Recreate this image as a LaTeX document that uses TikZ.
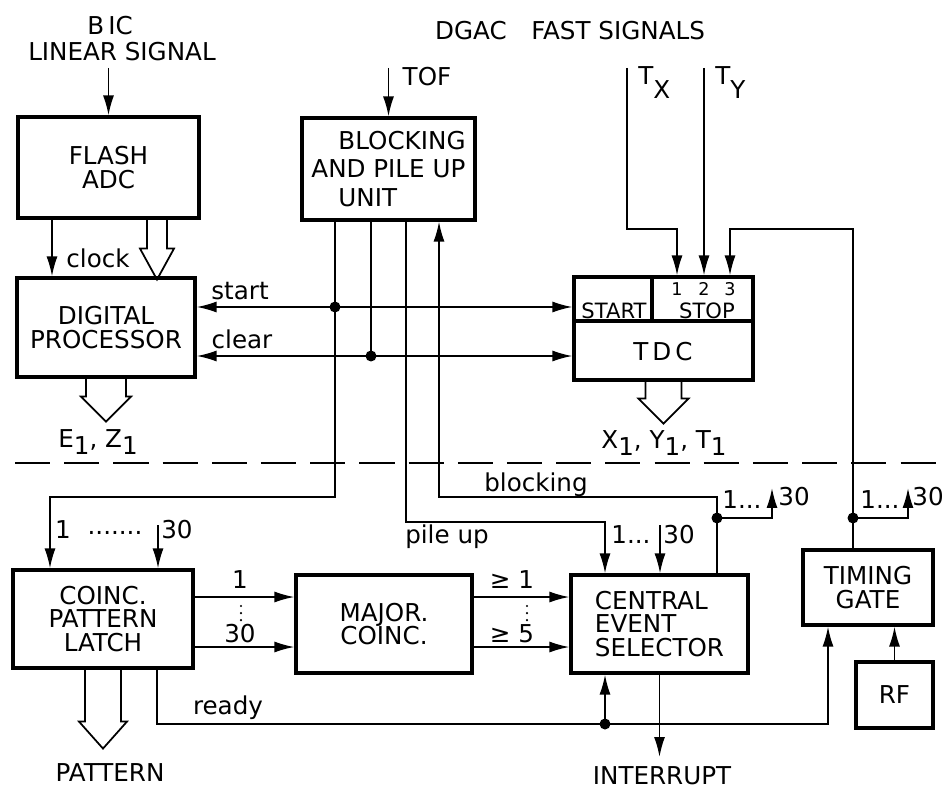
\documentclass[tikz,border=0pt]{standalone}
\usepackage{fontspec}
\setmainfont{DejaVu Sans}
\usepackage{tikz}
\usetikzlibrary{arrows.meta}
\newcommand{\lowidx}[2][4pt]{\raisebox{-#1}{#2}}
\newcommand{\fatarrow}[5]{%
  \draw[bus,shift={(#1)}] (-#2,0) -- (-#2,#3) -- (-#4,#3) -- (0,#5) -- (#4,#3) -- (#2,#3) -- (#2,0);}

\begin{document}
\begin{tikzpicture}[x=0.02cm,y=-0.02cm,font=\fontsize{14}{13.5}\selectfont,
  box/.style={draw,line width=1.8pt,inner sep=0pt,align=center},
  wire/.style={line width=1pt},
  sig/.style={wire,-{Latex[length=4mm,width=2.2mm]}},
  sigboth/.style={wire,{Latex[length=4mm,width=2.2mm]}-{Latex[length=4mm,width=2.2mm]}},
  bus/.style={wire,line join=miter},
  dot/.style={circle,fill,inner sep=0pt,minimum size=2.2mm},
  lbl/.style={inner sep=0pt},
  smalltext/.style={font=\fontsize{12}{12}\selectfont},
  digit/.style={font=\fontsize{10}{10}\selectfont},
  dotrow/.style={line width=1.4pt,line cap=round,dash pattern=on 0pt off 4pt},
  divider/.style={line width=1.1pt,dash pattern=on 20pt off 8pt}]
  \useasboundingbox (0,0) rectangle (946,790);

  % upper half: converters
  \node[box,minimum width=3.62cm,minimum height=2.02cm] (flash) at (108.5,167.5) {FLASH\\ADC};
  \node[box,minimum width=3.46cm,minimum height=2.04cm,align=left] (block) at (388.5,169)
    {\hspace*{1.1em}BLOCKING\\[2.5pt]AND PILE UP\\[2.5pt]\hspace*{1.1em}UNIT};
  \node[box,minimum width=3.56cm,minimum height=1.98cm] (dp) at (106,327.5) {DIGITAL\\PROCESSOR};
  \node[box,minimum width=3.58cm,minimum height=2.06cm] (tdc) at (663.5,328.5) {};

  % lower half: event selection
  \node[box,minimum width=3.6cm,minimum height=1.96cm] (latch) at (103,619) {COINC.\\PATTERN\\LATCH};
  \node[box,minimum width=3.52cm,minimum height=1.96cm] (major) at (384,624) {MAJOR.\\COINC.};
  \node[box,minimum width=3.54cm,minimum height=1.96cm,align=left] (ces) at (659.5,624) {CENTRAL\\EVENT\\SELECTOR};
  \node[box,minimum width=2.6cm,minimum height=1.5cm] (tg) at (868,587.5) {TIMING\\GATE};
  \node[box,minimum width=1.54cm,minimum height=1.32cm] (rf) at (894.5,695) {RF};

  % rows and columns of the wiring
  \coordinate (rtop) at (0,68);
  \coordinate (rbend) at (0,229);
  \coordinate (rstart) at (0,307);
  \coordinate (rdiv) at (0,321);
  \coordinate (rclear) at (0,356);
  \coordinate (rbus) at (0,497);
  \coordinate (rfantip) at (0,488);
  \coordinate (rfan) at (0,518);
  \coordinate (rpile) at (0,522);
  \coordinate (rshort) at (0,525);
  \coordinate (rone) at (0,597);
  \coordinate (rthirty) at (0,647);
  \coordinate (rready) at (0,724);
  \coordinate (rint) at (0,757);
  \coordinate (klatch) at (50,0);
  \coordinate (kclk) at (52,0);
  \coordinate (kadc) at (157,0);
  \coordinate (kready) at (157,0);
  \coordinate (klatchb) at (158,0);
  \coordinate (kstart) at (335,0);
  \coordinate (kclear) at (371,0);
  \coordinate (kpile) at (406,0);
  \coordinate (kblock) at (439,0);
  \coordinate (kces) at (605,0);
  \coordinate (ktx) at (627,0);
  \coordinate (kdiv) at (652,0);
  \coordinate (kcesb) at (660,0);
  \coordinate (kstopa) at (677,0);
  \coordinate (kstopb) at (704,0);
  \coordinate (kveto) at (717,0);
  \coordinate (kstopc) at (730,0);
  \coordinate (kfana) at (772,0);
  \coordinate (ktgin) at (828,0);
  \coordinate (kgate) at (853,0);
  \coordinate (kfanb) at (908,0);

  % TDC start / stop fields
  \draw[line width=1.8pt] (tdc.west |- rdiv) -- (tdc.east |- rdiv);
  \draw[line width=1.8pt] (tdc.north -| kdiv) -- (kdiv |- rdiv);
  \node[lbl,smalltext] (tstart) at (614,311) {START};
  \node[lbl,smalltext] (tstop) at (707,311) {STOP};
  \node[lbl,digit] (tone) at (677,289) {1};
  \node[lbl,digit] (ttwo) at (704,289) {2};
  \node[lbl,digit] (tthree) at (730,289) {3};
  \node[lbl] (ttdc) at (663,352) {T\,D\,C};

  % inputs from the top
  \draw[sig] (flash.north |- rtop) -- (flash.north);
  \draw[sig] (block.north |- rtop) -- (block.north);
  \draw[sig] (ktx |- rtop) -- (ktx |- rbend) -| (tdc.north -| kstopa);
  \draw[sig] (kstopb |- rtop) -- (tdc.north -| kstopb);
  \draw[sig] (tg.north -| kgate) -- (kgate |- rbend) -| (tdc.north -| kstopc);

  % ADC to processor, start / clear
  \draw[sig] (flash.south -| kclk) -- (dp.north -| kclk);
  \fatarrow{flash.south -| kadc}{10}{29}{17}{60}
  \draw[sigboth] (dp.east |- rstart) -- (tdc.west |- rstart);
  \draw[sigboth] (dp.east |- rclear) -- (tdc.west |- rclear);

  % lines of the blocking unit
  \draw[sig] (block.south -| kstart) -- (kstart |- rbus) -| (latch.north -| klatch);
  \draw[wire] (block.south -| kclear) -- (kclear |- rclear);
  \draw[sig] (block.south -| kpile) -- (kpile |- rpile) -| (ces.north -| kces);
  \draw[sig] (ces.north -| kveto) -- (kveto |- rbus) -| (block.south -| kblock);
  \node[dot] (jstart) at (kstart |- rstart) {};
  \node[dot] (jclear) at (kclear |- rclear) {};

  % 1...30 fan-outs
  \node[dot] (jveto) at (kveto |- rfan) {};
  \draw[sig] (jveto.center) -- (kfana |- rfan) -- (kfana |- rfantip);
  \node[dot] (jgate) at (kgate |- rfan) {};
  \draw[sig] (jgate.center) -- (kfanb |- rfan) -- (kfanb |- rfantip);
  \draw[sig] (klatchb |- rshort) -- (latch.north -| klatchb);
  \draw[sig] (kcesb |- rshort) -- (ces.north -| kcesb);

  % coincidence chain
  \draw[sig] (latch.east |- rone) -- (major.west |- rone);
  \draw[sig] (latch.east |- rthirty) -- (major.west |- rthirty);
  \draw[sig] (major.east |- rone) -- (ces.west |- rone);
  \draw[sig] (major.east |- rthirty) -- (ces.west |- rthirty);
  \draw[dotrow] (241,606) -- (241,624);
  \draw[dotrow] (527,606) -- (527,624);

  % ready, interrupt, RF
  \draw[sig] (latch.south -| kready) -- (kready |- rready) -| (tg.south -| ktgin);
  \node[dot] (jready) at (kces |- rready) {};
  \draw[sig] (jready.center) -- (ces.south -| kces);
  \draw[sig] (ces.south) -- (ces.south |- rint);
  \draw[sig] (rf.north) -- (tg.south -| rf.north);

  % output buses
  \fatarrow{dp.south}{20}{18}{25}{43}
  \fatarrow{tdc.south}{18}{17}{25}{42}
  \fatarrow{latch.south}{18}{52}{24}{79}

  % separation of the two halves
  \draw[divider] (15,463) -- (940,463);

  % labels
  \node[lbl] (bic) at (110,26) {B\,IC};
  \node[lbl] (biclin) at (122,52) {LINEAR SIGNAL};
  \node[lbl] (dgac) at (570,31) {DGAC\quad FAST SIGNALS};
  \node[lbl] (tof) at (427,77) {TOF};
  \node[lbl,anchor=west] (tx) at (638,83) {T\lowidx[8pt]{X}};
  \node[lbl,anchor=west] (ty) at (715,83) {T\lowidx[8pt]{Y}};
  \node[lbl] (lclk) at (98,258) {clock};
  \node[lbl] (lstart) at (240,291) {start};
  \node[lbl] (lclear) at (242,339) {clear};
  \node[lbl] (lez) at (98,442) {E\lowidx{1}, Z\lowidx{1}};
  \node[lbl] (lxyt) at (664,443) {X\lowidx{1}, Y\lowidx{1}, T\lowidx{1}};
  \node[lbl] (lblock) at (536,485) {blocking};
  \node[lbl] (lpile) at (447,537) {pile up};
  \node[lbl] (la1) at (63,530) {1};
  \node[lbl] (ladots) at (115,533) {.......};
  \node[lbl] (la30) at (177,530) {30};
  \node[lbl] (lc1) at (631,535) {1...};
  \node[lbl] (lc30) at (679,535) {30};
  \node[lbl] (lv1) at (742,500) {1...};
  \node[lbl] (lv30) at (794,497) {30};
  \node[lbl] (lg1) at (880,500) {1...};
  \node[lbl] (lg30) at (928,497) {30};
  \node[lbl] (lm1) at (240,580) {1};
  \node[lbl] (lm30) at (240,634) {30};
  \node[lbl] (lge1) at (512,580) {≥\ 1};
  \node[lbl] (lge5) at (512,634) {≥\ 5};
  \node[lbl] (lready) at (228,708) {ready};
  \node[lbl] (lpat) at (110,773) {PATTERN};
  \node[lbl] (lint) at (662,776) {INTERRUPT};
\end{tikzpicture}
\end{document}
